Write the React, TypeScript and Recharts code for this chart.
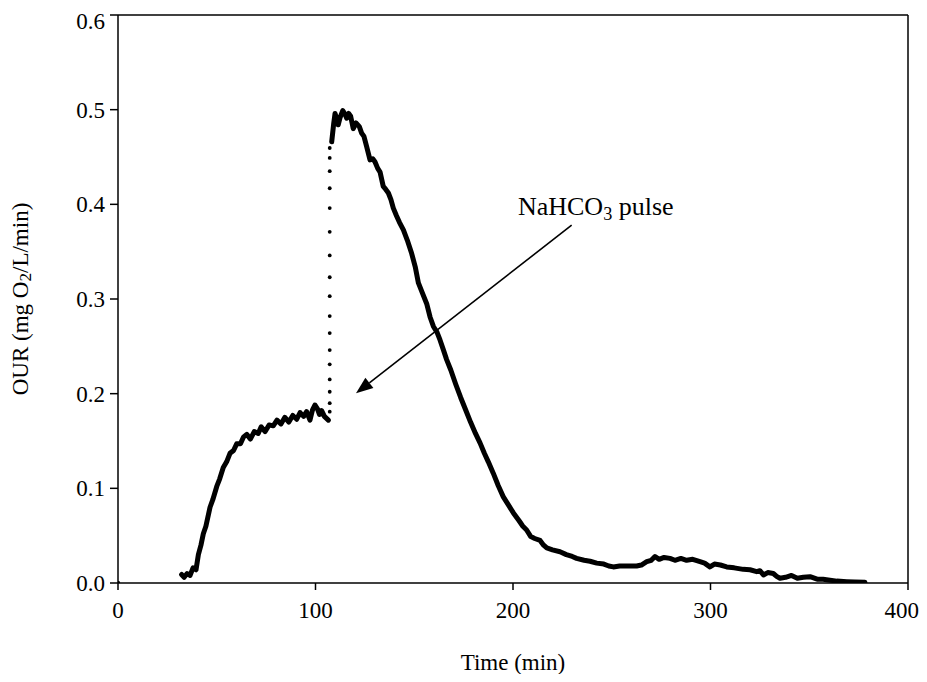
import React from "react";
import { ComposedChart, Line, XAxis, YAxis, ReferenceLine, ReferenceDot } from "recharts";

// Main OUR trace (time in min, OUR in mg O2/L/min)
const phase1Time = [32.2, 33.5, 35, 36.5, 38, 39.5, 40.7, 42, 43.2, 44.5, 46.6, 48, 50, 51.5, 53.3, 55, 56.7, 58.5, 60.1, 62, 63.5, 65.2, 67, 69, 71, 72.5, 74.5, 76.5, 78.6, 80.5, 82.5, 84.5, 86.5, 88.5, 90.5, 92.2, 94, 95.5, 97.2, 98.5, 99.7, 101, 102, 103.1, 104.5, 106.5];
const phase1OUR = [0.009, 0.006, 0.010, 0.008, 0.016, 0.014, 0.030, 0.040, 0.052, 0.060, 0.080, 0.088, 0.102, 0.110, 0.122, 0.128, 0.137, 0.140, 0.147, 0.147, 0.154, 0.157, 0.152, 0.160, 0.158, 0.165, 0.160, 0.167, 0.166, 0.172, 0.168, 0.175, 0.170, 0.177, 0.173, 0.180, 0.176, 0.181, 0.172, 0.183, 0.188, 0.184, 0.178, 0.182, 0.176, 0.172];

const phase2Time = [108.2, 109.2, 109.9, 110.8, 111.5, 112.5, 113.8, 115, 115.8, 116.8, 117.8, 119.1, 120.5, 122.2, 123.4, 124.5, 125.9, 127.6, 129, 130.1, 131.5, 132.7, 134.3, 135.5, 136.9, 138.2, 139.4, 141, 142.5, 144.5, 146.5, 148.7, 150.5, 152.1, 154, 156.3, 158, 159.7, 161.5, 163, 164.8, 166.4, 168.5, 171, 173.5, 176, 178.5, 181, 183.3, 185.5, 187.5, 190, 192.5, 195.1, 197.5, 200.2, 203, 205, 206.9, 209, 211, 213.7, 215.5, 217.1, 220, 223.8, 227, 230, 232.2, 236, 239, 242.4, 246, 248.5, 250.8, 254, 258, 262.6, 265, 267.7, 270, 271.9, 274, 276.5, 279.5, 282, 285, 287.9, 291, 294.7, 297, 299.7, 302, 305, 308.2, 312, 316.6, 320, 323.4, 325, 326.8, 329, 331.8, 333.5, 335.2, 338, 341, 344, 347, 350.4, 354, 357, 360.5, 364, 369, 373, 378.2];
const phase2OUR = [0.466, 0.485, 0.496, 0.490, 0.484, 0.492, 0.499, 0.495, 0.491, 0.496, 0.493, 0.480, 0.486, 0.482, 0.475, 0.472, 0.461, 0.447, 0.448, 0.445, 0.438, 0.434, 0.419, 0.416, 0.412, 0.405, 0.396, 0.388, 0.381, 0.373, 0.362, 0.348, 0.334, 0.317, 0.307, 0.295, 0.281, 0.271, 0.265, 0.257, 0.246, 0.236, 0.225, 0.210, 0.196, 0.183, 0.170, 0.158, 0.148, 0.137, 0.128, 0.116, 0.103, 0.091, 0.083, 0.074, 0.066, 0.060, 0.056, 0.049, 0.047, 0.045, 0.040, 0.037, 0.035, 0.033, 0.030, 0.028, 0.026, 0.024, 0.023, 0.021, 0.020, 0.018, 0.017, 0.018, 0.018, 0.018, 0.019, 0.0225, 0.024, 0.028, 0.025, 0.027, 0.026, 0.024, 0.026, 0.024, 0.025, 0.0225, 0.021, 0.017, 0.020, 0.019, 0.017, 0.016, 0.0144, 0.014, 0.012, 0.013, 0.0085, 0.011, 0.010, 0.007, 0.005, 0.006, 0.008, 0.005, 0.006, 0.0067, 0.004, 0.004, 0.003, 0.002, 0.0014, 0.001, 0.0007];

// Sparse points recorded during the NaHCO3 pulse jump
const jumpTime = 107.2;
const jumpOUR = [0.181, 0.190, 0.202, 0.215, 0.231, 0.246, 0.264, 0.282, 0.303, 0.323, 0.346, 0.371, 0.396, 0.417, 0.435, 0.449, 0.4595];

const originPoint = [{ t: 0, v: 0 }];

const xTicks = [0, 100, 200, 300, 400];
const yTicks = [0, 0.1, 0.2, 0.3, 0.4, 0.5, 0.6];

const annotationText = { t: 202.5, v: 0.389, main: "NaHCO", sub: "3", rest: " pulse" };
const arrowTail = { t: 229.7, v: 0.378 };
const arrowTip = { t: 120.5, v: 0.2004 };

const phase1 = phase1Time.map((t, i) => ({ t, v: phase1OUR[i] }));
const phase2 = phase2Time.map((t, i) => ({ t, v: phase2OUR[i] }));
const jump = jumpOUR.map((v) => ({ t: jumpTime, v }));

const FONT = "'Liberation Serif', 'Times New Roman', serif";
const FS = 23;

const YTitle = () => (
  <text
    x={12}
    y={291}
    transform="rotate(-90 12 291)"
    textAnchor="middle"
    dominantBaseline="central"
    fontFamily={FONT}
    fontSize={FS}
    fill="#000"
  >
    OUR (mg O<tspan fontSize={FS * 0.75} dy="0.3em">2</tspan>
    <tspan dy="-0.22em">/L/min)</tspan>
  </text>
);

const XTitle = () => (
  <text x={505} y={654} textAnchor="middle" dominantBaseline="central" fontFamily={FONT} fontSize={FS} fill="#000">
    Time (min)
  </text>
);

const ArrowShape = (props: any) => {
  const { x1, y1, x2, y2 } = props;
  if ([x1, y1, x2, y2].some((n) => n === undefined || isNaN(n))) return null;
  const ang = Math.atan2(y2 - y1, x2 - x1);
  const len = 17;
  const half = 6.5;
  const bx = x2 - len * Math.cos(ang);
  const by = y2 - len * Math.sin(ang);
  const px = -Math.sin(ang) * half;
  const py = Math.cos(ang) * half;
  return (
    <g>
      <line x1={x1} y1={y1} x2={bx} y2={by} stroke="#000" strokeWidth={1.6} />
      <polygon points={`${x2},${y2} ${bx + px},${by + py} ${bx - px},${by - py}`} fill="#000" />
    </g>
  );
};

const AFS = 26;
const TextShape = (props: any) => {
  const { cx, cy } = props;
  if (cx === undefined || cy === undefined) return null;
  return (
    <text x={cx} y={cy} fontFamily={FONT} fontSize={AFS} fill="#000">
      {annotationText.main}
      <tspan fontSize={AFS * 0.7} dy="0.3em">{annotationText.sub}</tspan>
      <tspan dy="-0.21em">{annotationText.rest}</tspan>
    </text>
  );
};

export default function App() {
  return (
    <div style={{ width: 911, height: 666, overflow: "visible" }}>
      <style>{".recharts-wrapper, .recharts-surface { overflow: visible !important; }"}</style>
      <ComposedChart
        width={911}
        height={666}
        margin={{ top: 7, right: 11, bottom: 0, left: 0 }}
        style={{ background: "#fff", overflow: "visible" }}
      >
        <XAxis
          dataKey="t"
          type="number"
          domain={[0, 400]}
          ticks={xTicks}
          allowDataOverflow
          height={91}
          tickSize={7}
          tickMargin={12}
          axisLine={{ stroke: "#000", strokeWidth: 1.5 }}
          tickLine={{ stroke: "#000", strokeWidth: 1.5 }}
          tick={{ fill: "#000", fontFamily: FONT, fontSize: FS }}
          label={<XTitle />}
        />
        <YAxis
          type="number"
          domain={[0, 0.6]}
          ticks={yTicks}
          allowDataOverflow
          width={110}
          tickSize={8}
          tickMargin={5}
          tickFormatter={(v: number) => v.toFixed(1)}
          axisLine={{ stroke: "#000", strokeWidth: 1.5 }}
          tickLine={{ stroke: "#000", strokeWidth: 1.5 }}
          tick={{ fill: "#000", fontFamily: FONT, fontSize: FS }}
          label={<YTitle />}
        />
        <ReferenceLine y={0.6} stroke="#000" strokeWidth={1.5} />
        <ReferenceLine x={400} stroke="#000" strokeWidth={1.5} />
        <Line
          data={phase1}
          dataKey="v"
          type="linear"
          stroke="#000"
          strokeWidth={5}
          strokeLinejoin="round"
          strokeLinecap="round"
          dot={false}
          isAnimationActive={false}
        />
        <Line
          data={phase2}
          dataKey="v"
          type="linear"
          stroke="#000"
          strokeWidth={5}
          strokeLinejoin="round"
          strokeLinecap="round"
          dot={false}
          isAnimationActive={false}
        />
        <Line
          data={jump}
          dataKey="v"
          type="linear"
          stroke="none"
          dot={{ r: 1.9, fill: "#000", stroke: "none" }}
          isAnimationActive={false}
        />
        <Line
          data={originPoint}
          dataKey="v"
          type="linear"
          stroke="none"
          dot={{ r: 2.2, fill: "#000", stroke: "none" }}
          isAnimationActive={false}
        />
        <ReferenceLine
          segment={[{ x: arrowTail.t, y: arrowTail.v }, { x: arrowTip.t, y: arrowTip.v }]}
          shape={ArrowShape}
        />
        <ReferenceDot x={annotationText.t} y={annotationText.v} r={0} shape={TextShape} />
      </ComposedChart>
    </div>
  );
}
